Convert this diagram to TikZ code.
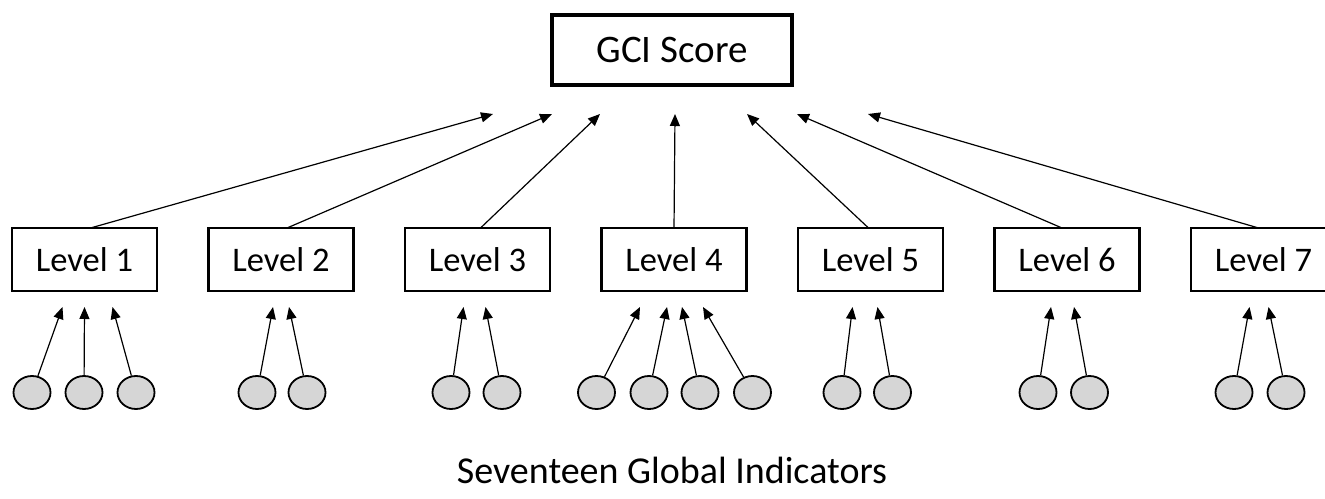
\documentclass[tikz,border=0pt]{standalone}
\usepackage{fontspec}
\setmainfont{Carlito}
\usetikzlibrary{arrows.meta,positioning,shapes.geometric}
\definecolor{indgray}{HTML}{D6D6D6}
\tikzset{
 score/.style={draw,line width=3.5bp,outer sep=0pt,minimum width=240bp,minimum height=70bp,
             font=\fontsize{39bp}{46bp}\selectfont},
 level/.style={draw,line width=2.5bp,outer sep=0pt,minimum width=145bp,minimum height=63bp,
             font=\fontsize{34.5bp}{40bp}\selectfont},
 ind/.style={ellipse,draw,line width=1.8bp,fill=indgray,minimum width=37bp,minimum height=33bp,
             inner sep=0pt},
 arrow/.style={-{Triangle[length=12bp,width=10bp]},line width=1.2bp}
}

\begin{document}
\begin{tikzpicture}[x=1bp,y=-1bp,node distance=51.5bp]
\useasboundingbox (0,0) rectangle (1325,499);
\node[score] (gci) at (672,50) {GCI Score};
\node[level] (lv1) at (84.5,259.5) {Level 1};
\node[level,right=of lv1] (lv2) {Level 2};
\node[level,right=of lv2] (lv3) {Level 3};
\node[level,right=of lv3] (lv4) {Level 4};
\node[level,right=of lv4] (lv5) {Level 5};
\node[level,right=of lv5] (lv6) {Level 6};
\node[level,right=of lv6] (lv7) {Level 7};

\draw[arrow] ([xshift=6bp]lv1.north)--([xshift=-179bp,yshift=-29bp]gci.south);
\draw[arrow] ([xshift=6bp]lv2.north)--([xshift=-120bp,yshift=-29bp]gci.south);
\draw[arrow] ([xshift=3bp]lv3.north)--([xshift=-72bp,yshift=-29bp]gci.south);
\draw[arrow] (lv4.north)--([xshift=3bp,yshift=-29bp]gci.south);
\draw[arrow] ([xshift=-2bp]lv5.north)--([xshift=75bp,yshift=-29bp]gci.south);
\draw[arrow] ([xshift=-5bp]lv6.north)--([xshift=125bp,yshift=-29bp]gci.south);
\draw[arrow] ([xshift=-5bp]lv7.north)--([xshift=196bp,yshift=-29bp]gci.south);

\node[ind] (c11) at (32,392.5) {};
\node[ind] (c12) at (84,392.5) {};
\node[ind] (c13) at (136,392.5) {};
\node[ind] (c21) at (257,392.5) {};
\node[ind] (c22) at (307,392.5) {};
\node[ind] (c31) at (451,392.5) {};
\node[ind] (c32) at (502,392.5) {};
\node[ind] (c41) at (596.5,392.5) {};
\node[ind] (c42) at (649,392.5) {};
\node[ind] (c43) at (700,392.5) {};
\node[ind] (c44) at (752.5,392.5) {};
\node[ind] (c51) at (842,392.5) {};
\node[ind] (c52) at (892.5,392.5) {};
\node[ind] (c61) at (1038,392.5) {};
\node[ind] (c62) at (1089.5,392.5) {};
\node[ind] (c71) at (1234,392.5) {};
\node[ind] (c72) at (1286,392.5) {};

\draw[arrow] (c11)--([xshift=-22bp,yshift=-16bp]lv1.south);
\draw[arrow] (c12)--([yshift=-16bp]lv1.south);
\draw[arrow] (c13)--([xshift=28bp,yshift=-16bp]lv1.south);
\draw[arrow] (c21)--([xshift=-8bp,yshift=-16bp]lv2.south);
\draw[arrow] (c22)--([xshift=8bp,yshift=-16bp]lv2.south);
\draw[arrow] (c31)--([xshift=-14bp,yshift=-16bp]lv3.south);
\draw[arrow] (c32)--([xshift=8bp,yshift=-16bp]lv3.south);
\draw[arrow] (c41)--([xshift=-34bp,yshift=-16bp]lv4.south);
\draw[arrow] (c42)--([xshift=-7bp,yshift=-16bp]lv4.south);
\draw[arrow] (c43)--([xshift=8bp,yshift=-16bp]lv4.south);
\draw[arrow] (c44)--([xshift=29bp,yshift=-16bp]lv4.south);
\draw[arrow] (c51)--([xshift=-18bp,yshift=-16bp]lv5.south);
\draw[arrow] (c52)--([xshift=7bp,yshift=-16bp]lv5.south);
\draw[arrow] (c61)--([xshift=-16bp,yshift=-16bp]lv6.south);
\draw[arrow] (c62)--([xshift=7bp,yshift=-16bp]lv6.south);
\draw[arrow] (c71)--([xshift=-14bp,yshift=-16bp]lv7.south);
\draw[arrow] (c72)--([xshift=5bp,yshift=-16bp]lv7.south);

\node[font=\fontsize{38bp}{45bp}\selectfont,anchor=base] (caption) at (672,483) {Seventeen Global Indicators};
\end{tikzpicture}
\end{document}
